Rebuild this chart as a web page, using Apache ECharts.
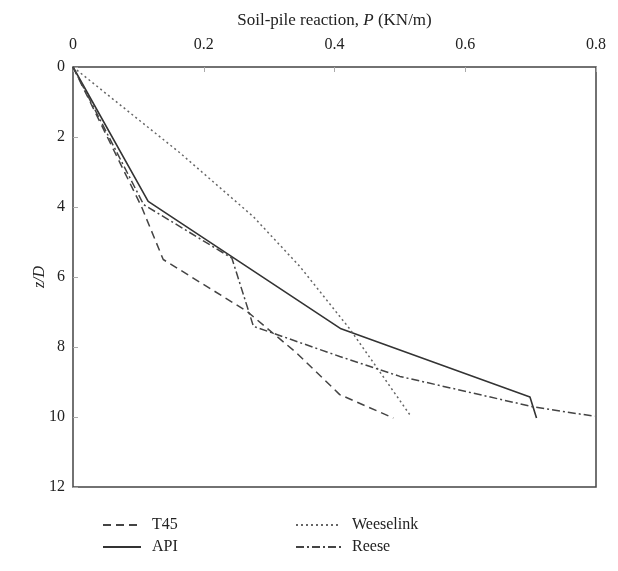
<!DOCTYPE html>
<html><head><meta charset="utf-8">
<script src="https://cdn.jsdelivr.net/npm/echarts@6/dist/echarts.min.js"></script>
<style>html,body{margin:0;padding:0;background:#fff}#c{width:618px;height:571px}</style>
</head><body><div id="c"></div>
<script>
// Data: [P (KN/m), z/D]
const t45 = [[0,0],[0.105,4.0],[0.138,5.5],[0.266,6.98],[0.342,8.17],[0.408,9.36],[0.490,10.03]];
const api = [[0,0],[0.115,3.84],[0.410,7.48],[0.699,9.43],[0.709,10.03]];
const weeselink = [[0,0],[0.164,2.46],[0.276,4.28],[0.347,5.70],[0.424,7.5],[0.515,9.93]];
const reese = [[0,0],[0.108,3.93],[0.243,5.46],[0.276,7.41],[0.408,8.27],[0.500,8.84],[0.704,9.71],[0.798,9.98]];
const xTickLabels = ['0','0.2','0.4','0.6','0.8'];
const yTickLabels = ['0','2','4','6','8','10','12'];
const seriesNames = ['T45','API','Weeselink','Reese'];

const font = 'Liberation Serif';
const chart = echarts.init(document.getElementById('c'));
const mk = (name, data, color, type, width) => ({
  name, type:'line', data, symbol:'none', smooth:false,
  lineStyle:{color, width, type}, itemStyle:{color}
});
const legendCommon = {orient:'vertical',top:512,itemGap:6,itemHeight:10,
  itemStyle:{opacity:0},
  textStyle:{fontFamily:font,fontSize:16,color:'#222',padding:[0,0,0,6]}};
chart.setOption({
  animation:false,
  backgroundColor:'#fff',
  grid:{left:73,right:22,top:67,bottom:84,show:true,borderColor:'#444',borderWidth:1.5,backgroundColor:'transparent'},
  xAxis:{type:'value',position:'top',min:0,max:0.8,interval:0.2,
    name:'Soil-pile reaction, {i|P} (KN/m)',nameLocation:'middle',nameGap:38,nameMoveOverlap:false,
    nameTextStyle:{fontFamily:font,fontSize:17,color:'#222',rich:{i:{fontFamily:font,fontStyle:'italic',fontSize:17,color:'#222'}}},
    axisLine:{show:false},splitLine:{show:false},
    axisTick:{show:true,inside:true,length:5,lineStyle:{color:'#aaa'}},
    axisLabel:{fontFamily:font,fontSize:16,color:'#222',margin:14,
      formatter:(v)=>xTickLabels[Math.round(v/0.2)]}
  },
  yAxis:{type:'value',inverse:true,min:0,max:12,interval:2,
    name:'z/D',nameLocation:'middle',nameGap:25,nameMoveOverlap:false,
    nameTextStyle:{fontFamily:font,fontSize:16,fontStyle:'italic',color:'#222'},
    axisLine:{show:false},splitLine:{show:false},
    axisTick:{show:true,inside:true,length:5,lineStyle:{color:'#aaa'}},
    axisLabel:{fontFamily:font,fontSize:16,color:'#222',margin:8,
      formatter:(v)=>yTickLabels[Math.round(v/2)]}
  },
  legend:[
    Object.assign({data:[seriesNames[0],seriesNames[1]],left:97,itemWidth:38},legendCommon),
    Object.assign({data:[seriesNames[2],seriesNames[3]],left:290,itemWidth:45},legendCommon)
  ],
  series:[
    mk(seriesNames[0],t45,'#444',[8,5],1.5),
    mk(seriesNames[1],api,'#333','solid',1.6),
    mk(seriesNames[2],weeselink,'#666',[2,3],1.5),
    mk(seriesNames[3],reese,'#444',[8,3,2,3],1.5)
  ]
});
</script></body></html>
